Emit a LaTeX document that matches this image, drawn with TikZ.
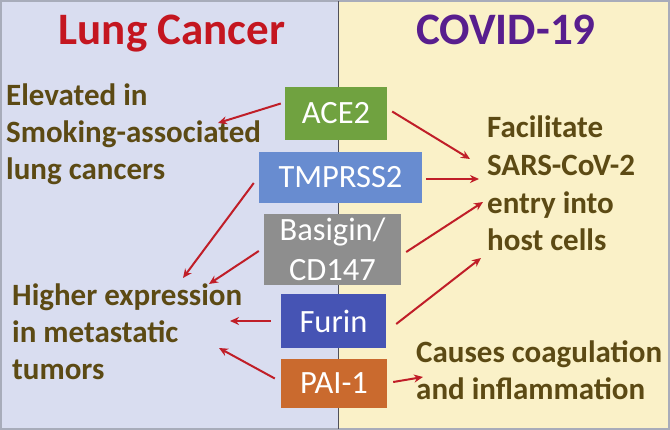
\documentclass[tikz,border=0pt]{standalone}
\usepackage{fontspec}
\setmainfont{Carlito}
\usepackage{tikz}
\usetikzlibrary{arrows.meta, positioning, calc}
\definecolor{leftbg}{RGB}{217,221,240}
\definecolor{rightbg}{RGB}{250,241,200}
\definecolor{framegray}{RGB}{168,172,186}
\definecolor{dividergray}{RGB}{80,80,90}
\definecolor{lungred}{RGB}{196,22,32}
\definecolor{covidpurple}{RGB}{88,30,142}
\definecolor{olivetext}{RGB}{92,74,20}
\definecolor{arrowred}{RGB}{192,30,40}
\definecolor{acegreen}{RGB}{112,162,64}
\definecolor{tmpblue}{RGB}{104,140,208}
\definecolor{basgray}{RGB}{142,142,142}
\definecolor{furinblue}{RGB}{70,84,180}
\definecolor{paiorange}{RGB}{202,106,46}
\tikzset{
  genebox/.style={rectangle, inner sep=0pt, text=white, align=center,
                  font=\fontsize{32.5}{40}\selectfont},
  sidetext/.style={inner sep=0pt, align=left, text=olivetext,
                   font=\fontsize{31}{37}\selectfont\bfseries},
  titletext/.style={inner sep=0pt, font=\fontsize{45}{50}\selectfont\bfseries},
  arrow/.style={-{Stealth[length=9pt, width=8pt]}, line width=2pt, draw=arrowred},
}
\begin{document}
\begin{tikzpicture}[x=1pt, y=-1pt]
  % Panels
  \useasboundingbox (0,0) rectangle (670,430);
  \fill[leftbg] (0,0) rectangle (338,430);
  \fill[rightbg] (338,0) rectangle (670,430);
  \draw[framegray, line width=1.6pt] (1,1) rectangle (669,429);
  \draw[dividergray, line width=0.6pt] (338,1) -- (338,429);

  % Titles
  \node[titletext, text=lungred, anchor=base] (lung) at (172,45) {Lung Cancer};
  \node[titletext, text=covidpurple, anchor=base] (covid) at (506,45) {COVID-19};

  % Genes
  \node[genebox, fill=acegreen, minimum width=102pt, minimum height=53pt]
    (ace) at (336,113.5) {ACE2};
  \node[genebox, fill=tmpblue, minimum width=163pt, minimum height=51pt]
    (tmp) at (340.5,177.5) {TMPRSS2};
  \node[genebox, fill=basgray, minimum width=137pt, minimum height=71pt]
    (bas) at (332.5,249.5) {Basigin/\\CD147};
  \node[genebox, fill=furinblue, minimum width=105pt, minimum height=54pt]
    (furin) at (333.5,321) {Furin};
  \node[genebox, fill=paiorange, minimum width=106pt, minimum height=49pt]
    (pai) at (334,383.5) {PAI-1};

  % Effects (base = last line)
  \node[sidetext, anchor=base west] (elevated) at (6,180)
    {Elevated in\\Smoking-associated\\lung cancers};
  \node[sidetext, anchor=base west] (higher) at (12,380)
    {Higher expression\\in metastatic\\tumors};
  \node[sidetext, anchor=base west, font=\fontsize{31}{37.7}\selectfont\bfseries]
    (facil) at (487,251) {Facilitate\\SARS-CoV-2\\entry into\\host cells};
  \node[sidetext, anchor=base west] (causes) at (416,400)
    {Causes coagulation\\and inflammation};

  % Arrow tips
  \coordinate (elevtip) at (218,123);
  \coordinate (factipa) at (470,159);
  \coordinate (factipb) at (479,179);
  \coordinate (factipc) at (483,202);
  \coordinate (factipd) at (481,258);
  \coordinate (hightipa) at (183,278);
  \coordinate (hightipb) at (209,284);
  \coordinate (hightipc) at (230,321);
  \coordinate (hightipd) at (219,348);
  \coordinate (causetip) at (423,377);

  \draw[arrow] ($(ace.west)+(-4,-10)$) -- (elevtip);
  \draw[arrow] ($(ace.east)+(5,-2)$) -- (factipa);
  \draw[arrow] ($(tmp.east)+(4,1.5)$) -- (factipb);
  \draw[arrow] ($(tmp.west)+(-5,5.5)$) -- (hightipa);
  \draw[arrow] ($(bas.west)+(-5,1.5)$) -- (hightipb);
  \draw[arrow] ($(bas.east)+(5,2.5)$) -- (factipc);
  \draw[arrow] ($(furin.west)+(-10,0)$) -- (hightipc);
  \draw[arrow] ($(furin.east)+(10,3)$) -- (factipd);
  \draw[arrow] ($(pai.west)+(-6,-5)$) -- (hightipd);
  \draw[arrow] ($(pai.east)+(6,-1.5)$) -- (causetip);
\end{tikzpicture}
\end{document}
